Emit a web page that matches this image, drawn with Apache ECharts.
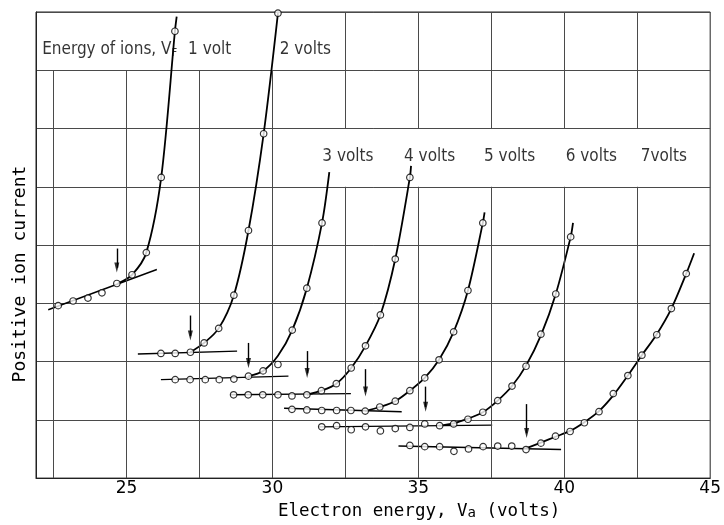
<!DOCTYPE html>
<html>
<head>
<meta charset="utf-8">
<script src="https://cdn.jsdelivr.net/npm/echarts@6/dist/echarts.min.js"></script>
<style>
html, body { margin: 0; padding: 0; background: #fff; }
#chart { width: 724px; height: 525px; }
</style>
</head>
<body>
<div id="chart"></div>
<script>
var xTicks = [25, 30, 35, 40, 45];
// vertical grid pieces [x, from, to]; gaps leave room for the labels
var vGrid = [[22.5, 0, 7], [25, 0, 7], [27.5, 0, 7], [30, 0, 7],
    [32.5, 0, 5], [32.5, 6, 8], [35, 0, 5], [35, 6, 8], [37.5, 0, 5], [37.5, 6, 8],
    [40, 0, 5], [40, 6, 8], [42.5, 0, 5], [42.5, 6, 8]];

// measured points (open circles)
var pts1 = [[22.66, 2.96], [23.17, 3.04], [23.68, 3.09], [24.16, 3.18], [24.67, 3.34], [25.19, 3.49], [25.68, 3.87], [26.19, 5.16], [26.66, 7.67]];
var pts2 = [[26.18, 2.14], [26.67, 2.14], [27.19, 2.16], [27.66, 2.32], [28.16, 2.57], [28.68, 3.14], [29.18, 4.25], [29.70, 5.91], [30.19, 7.98]];
var pts3 = [[26.67, 1.69], [27.18, 1.69], [27.70, 1.69], [28.18, 1.69], [28.68, 1.70], [29.18, 1.75], [29.68, 1.84], [30.19, 1.95], [30.68, 2.54], [31.18, 3.26], [31.70, 4.38]];
var pts4 = [[28.67, 1.43], [29.17, 1.43], [29.67, 1.43], [30.19, 1.43], [30.67, 1.41], [31.18, 1.43], [31.68, 1.50], [32.19, 1.62], [32.70, 1.89], [33.19, 2.27], [33.70, 2.80], [34.21, 3.76], [34.71, 5.16]];
var pts5 = [[30.67, 1.18], [31.18, 1.17], [31.69, 1.16], [32.20, 1.16], [32.69, 1.16], [33.18, 1.15], [33.68, 1.22], [34.21, 1.32], [34.71, 1.50], [35.22, 1.72], [35.71, 2.03], [36.21, 2.51], [36.70, 3.22], [37.21, 4.38]];
var pts6 = [[31.69, 0.88], [32.20, 0.90], [32.70, 0.83], [33.19, 0.88], [33.70, 0.81], [34.21, 0.85], [34.71, 0.87], [35.22, 0.93], [35.73, 0.90], [36.21, 0.93], [36.70, 1.01], [37.21, 1.13], [37.72, 1.33], [38.21, 1.58], [38.69, 1.92], [39.20, 2.47], [39.71, 3.16], [40.22, 4.14]];
var pts7 = [[34.71, 0.56], [35.22, 0.54], [35.73, 0.54], [36.22, 0.46], [36.72, 0.50], [37.22, 0.54], [37.72, 0.55], [38.20, 0.55], [38.69, 0.49], [39.20, 0.60], [39.70, 0.72], [40.20, 0.80], [40.69, 0.95], [41.19, 1.14], [41.68, 1.45], [42.18, 1.76], [42.66, 2.11], [43.17, 2.46], [43.67, 2.91], [44.18, 3.51]];

// hand drawn rising curves
var fit1 = [[24.70, 3.34], [25.19, 3.49], [25.68, 3.87], [26.19, 5.16], [26.66, 7.67], [26.72, 7.92]];
var fit2 = [[27.19, 2.16], [27.66, 2.32], [28.16, 2.57], [28.68, 3.14], [29.18, 4.25], [29.70, 5.91], [30.19, 7.98]];
var fit3 = [[29.18, 1.75], [29.68, 1.84], [30.19, 2.10], [30.68, 2.54], [31.18, 3.26], [31.70, 4.38], [31.95, 5.25]];
var fit4 = [[31.18, 1.43], [31.68, 1.50], [32.19, 1.62], [32.70, 1.89], [33.19, 2.27], [33.70, 2.80], [34.21, 3.76], [34.71, 5.16], [34.75, 5.36]];
var fit5 = [[33.18, 1.15], [33.68, 1.22], [34.21, 1.32], [34.71, 1.50], [35.22, 1.72], [35.71, 2.03], [36.21, 2.51], [36.70, 3.22], [37.21, 4.38], [37.27, 4.56]];
var fit6 = [[35.70, 0.90], [36.21, 0.94], [36.70, 1.02], [37.21, 1.13], [37.72, 1.33], [38.21, 1.58], [38.69, 1.93], [39.20, 2.45], [39.71, 3.16], [40.22, 4.14], [40.30, 4.38]];
var fit7 = [[38.69, 0.51], [39.20, 0.61], [39.70, 0.71], [40.20, 0.81], [40.69, 0.96], [41.19, 1.15], [41.68, 1.42], [42.18, 1.76], [42.66, 2.11], [43.17, 2.47], [43.67, 2.91], [44.18, 3.51], [44.45, 3.86]];

// straight base lines
var tan1 = [[22.32, 2.89], [26.04, 3.58]];
var tan2 = [[25.39, 2.13], [28.79, 2.18]];
var tan3 = [[26.18, 1.69], [30.55, 1.75]];
var tan4 = [[28.57, 1.43], [32.69, 1.45]];
var tan5 = [[30.40, 1.20], [34.43, 1.14]];
var tan6 = [[31.58, 0.88], [37.53, 0.91]];
var tan7 = [[34.32, 0.55], [39.89, 0.49]];

// onset arrows [x, top, tip]
var arrows = [[24.67, 3.94, 3.53], [27.19, 2.79, 2.36], [29.18, 2.32, 1.89], [31.19, 2.18, 1.72],
    [33.19, 1.87, 1.40], [35.25, 1.57, 1.14], [38.71, 1.27, 0.69]];

// curve labels [x, y, text]
var bandLabels = [[22.11, 7.35, '{t|Energy of ions, V}{s|F}'], [27.11, 7.35, '1 volt'], [30.25, 7.35, '2 volts'],
    [31.71, 5.52, '3 volts'], [34.51, 5.52, '4 volts'], [37.25, 5.52, '5 volts'], [40.05, 5.52, '6 volts'], [42.62, 5.52, '7volts']];

var dom = document.getElementById('chart');
var myChart = echarts.init(dom);
var ink = '#000';
var letterFont = '"DejaVu Sans Condensed", "DejaVu Sans", sans-serif';

var allPts = [pts1, pts2, pts3, pts4, pts5, pts6, pts7];
var allFit = [fit1, fit2, fit3, fit4, fit5, fit6, fit7];
var allTan = [tan1, tan2, tan3, tan4, tan5, tan6, tan7];

var series = [];
series.push({
    type: 'line', data: [], silent: true,
    markLine: {
        silent: true, symbol: 'none', animation: false,
        label: {show: false},
        lineStyle: {color: '#4a4a4a', width: 1, type: 'solid'},
        data: vGrid.map(function (g) {
            return [{coord: [g[0], g[1]]}, {coord: [g[0], g[2]]}];
        })
    }
});
// arrow shafts
series.push({
    type: 'line', data: [], silent: true,
    markLine: {
        silent: true, symbol: 'none', animation: false,
        label: {show: false},
        lineStyle: {color: ink, width: 1.4, type: 'solid'},
        data: arrows.map(function (a) {
            return [{coord: [a[0], a[1]]}, {coord: [a[0], a[2] + 0.08]}];
        })
    }
});
// arrow heads
series.push({
    type: 'scatter', silent: true, z: 4,
    data: arrows.map(function (a) { return [a[0], a[2]]; }),
    symbol: 'triangle', symbolRotate: 180, symbolSize: [5, 10], symbolOffset: [0, -5],
    itemStyle: {color: ink}
});
for (var i = 0; i < 7; i++) {
    series.push({
        type: 'line', data: allTan[i], symbol: 'none', silent: true,
        lineStyle: {color: ink, width: 1.4}
    });
    series.push({
        type: 'line', data: allFit[i], symbol: 'none', silent: true,
        smooth: 0.3,
        lineStyle: {color: ink, width: 1.8}
    });
    series.push({
        type: 'scatter', data: allPts[i], symbol: 'circle', symbolSize: 6.5, z: 5,
        itemStyle: {color: '#fff', borderColor: ink, borderWidth: 1.2}
    });
}
series.push({
    type: 'scatter', symbolSize: 0, silent: true, z: 6,
    data: bandLabels,
    label: {
        show: true, position: 'right', distance: 0,
        fontFamily: letterFont, fontSize: 17, color: ink,
        formatter: function (p) { return p.value[2]; },
        rich: {
            t: {fontFamily: letterFont, fontSize: 17, color: ink},
            s: {fontFamily: letterFont, fontSize: 11, color: ink, verticalAlign: 'bottom'}
        }
    }
});

var option = {
    animation: false,
    backgroundColor: '#fff',
    grid: {left: 36, right: 6, top: 12, bottom: 39, show: true, borderColor: '#222', borderWidth: 1},
    xAxis: {
        type: 'value', min: 21.9, max: 45,
        axisLine: {lineStyle: {color: '#222', width: 1}},
        axisTick: {show: false},
        splitLine: {show: false},
        axisLabel: {customValues: xTicks, fontFamily: 'DejaVu Sans', fontSize: 17, color: ink, margin: 2},
        name: '{n|Electron energy, V}{s|a}{n| (volts)}',
        nameLocation: 'middle', nameGap: 19,
        nameTextStyle: {
            padding: [0, 0, 0, 92],
            rich: {
                n: {fontFamily: 'DejaVu Sans Mono', fontSize: 17.5, color: ink},
                s: {fontFamily: 'DejaVu Sans Mono', fontSize: 14, color: ink, verticalAlign: 'bottom'}
            }
        }
    },
    yAxis: {
        type: 'value', min: 0, max: 8, interval: 1,
        axisLine: {show: true, lineStyle: {color: '#222', width: 1}},
        axisTick: {show: false},
        axisLabel: {show: false},
        splitLine: {lineStyle: {color: '#4a4a4a', width: 1}},
        name: 'Positive ion current',
        nameLocation: 'middle', nameGap: 7,
        nameTextStyle: {fontFamily: 'DejaVu Sans Mono', fontSize: 18, color: ink, padding: [0, 58, 0, 0]}
    },
    series: series
};

myChart.setOption(option, true);
window.onresize = function () {
    myChart.resize();
};
</script>
</body>
</html>
